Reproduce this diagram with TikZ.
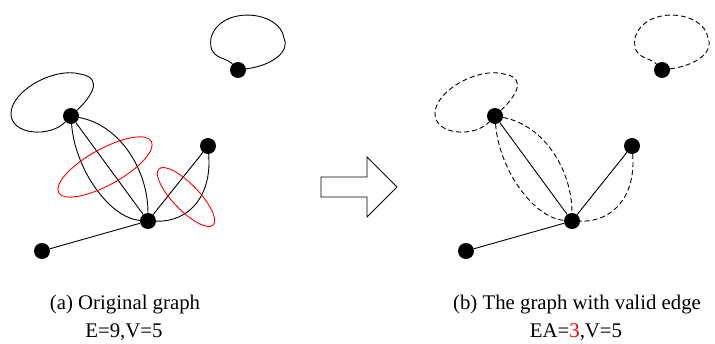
\documentclass[tikz,border=0pt]{standalone}
\usepackage{fontspec}
\setmainfont{Liberation Serif}
\begin{document}
\begin{tikzpicture}[x=1pt,y=-1pt,
  vtx/.style={circle,fill=black,inner sep=0pt,minimum size=16pt},
  gedge/.style={draw=black,line width=0.9pt},
  dgedge/.style={draw=black,line width=0.9pt,dash pattern=on 5pt off 3pt},
  redgroup/.style={draw=red,line width=0.9pt},
  blockarrow/.style={draw=black,line width=0.8pt,line join=miter},
  captext/.style={font=\fontsize{20.8}{25}\selectfont,anchor=base,inner sep=0pt}]
\useasboundingbox (0,0) rectangle (715,343);
% ---------- left graph ----------
\node[vtx] (A) at (71,116) {};
\node[vtx] (B) at (148,221) {};
\node[vtx] (C) at (208,146) {};
\node[vtx] (D) at (42,251) {};
\node[vtx] (E) at (238,70) {};
\draw[gedge] (A) .. controls (90,98) and (105,78) .. (80,74)
   .. controls (55,67) and (12,90) .. (11,113)
   .. controls (10,135) and (50,138) .. (A);
\draw[gedge] (E) .. controls (275,65) and (290,50) .. (284,38)
   .. controls (280,10) and (220,5) .. (211,38)
   .. controls (208,60) and (225,56) .. (E);
\draw[gedge] (A) -- (B);
\draw[gedge] (A) .. controls (75,170) and (110,218) .. (B);
\draw[gedge] (A) .. controls (120,125) and (148,170) .. (B);
\draw[gedge] (B) -- (C);
\draw[gedge] (C) .. controls (212,195) and (190,222) .. (B);
\draw[gedge] (B) -- (D);
\coordinate (g1) at (105,167);
\coordinate (g2) at (186,197);
\draw[redgroup,rotate around={29:(g1)}] (g1) ellipse [x radius=53pt,y radius=18pt];
\draw[redgroup,rotate around={-46:(g2)}] (g2) ellipse [x radius=39pt,y radius=13pt];
% ---------- arrow ----------
\draw[blockarrow] (321,177) -- (367,177) -- (367,157) -- (397,187) -- (367,217) -- (367,197) -- (321,197) -- cycle;
% ---------- right graph ----------
\node[vtx] (A2) at (495,116) {};
\node[vtx] (B2) at (572,221) {};
\node[vtx] (C2) at (632,146) {};
\node[vtx] (D2) at (466,251) {};
\node[vtx] (E2) at (662,70) {};
\draw[dgedge] (A2) .. controls (514,98) and (529,78) .. (504,74)
   .. controls (479,67) and (436,90) .. (435,113)
   .. controls (434,135) and (474,138) .. (A2);
\draw[dgedge] (E2) .. controls (699,65) and (714,50) .. (708,38)
   .. controls (704,10) and (644,5) .. (635,38)
   .. controls (632,60) and (649,56) .. (E2);
\draw[gedge] (A2) -- (B2);
\draw[dgedge] (A2) .. controls (499,170) and (534,218) .. (B2);
\draw[dgedge] (A2) .. controls (544,125) and (572,170) .. (B2);
\draw[gedge] (B2) -- (C2);
\draw[dgedge] (C2) .. controls (636,195) and (614,222) .. (B2);
\draw[gedge] (B2) -- (D2);
% ---------- captions ----------
\node[captext] (capa) at (125,309) {(a) Original graph};
\node[captext] (capa2) at (124,337) {E=9,V=5};
\node[captext] (capb) at (577,309) {(b) The graph with valid edge};
\node[captext] (capb2) at (576,337) {EA=\textcolor{red}{3},V=5};
\end{tikzpicture}
\end{document}
